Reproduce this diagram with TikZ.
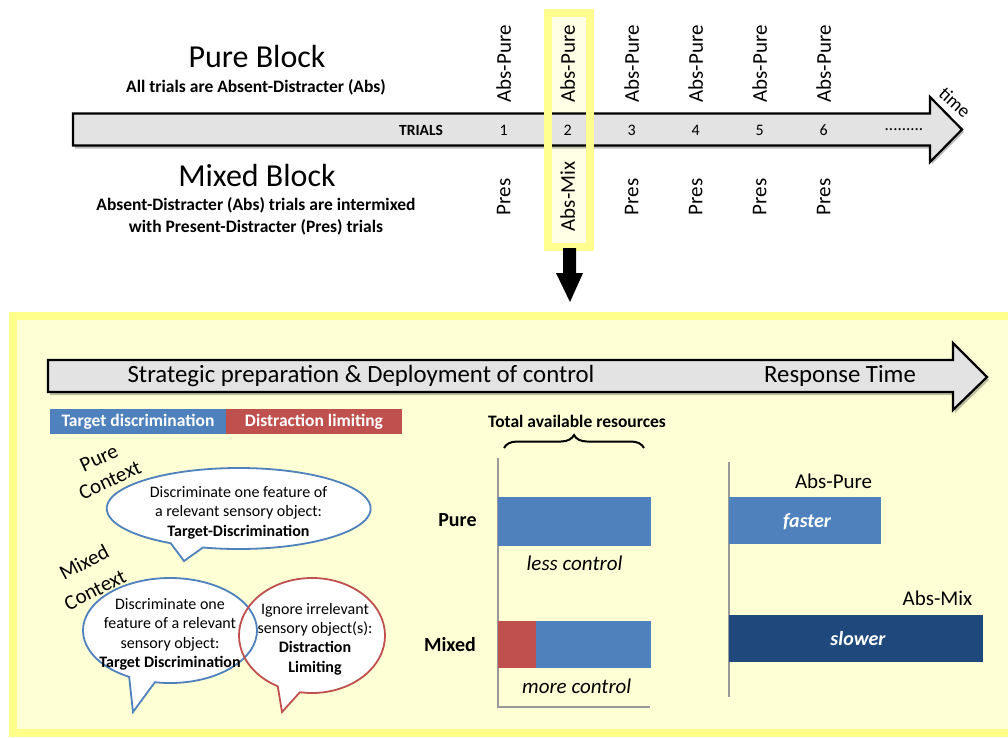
\documentclass[tikz,border=0pt]{standalone}
\usepackage{fontspec}
\setmainfont{Carlito}
\usetikzlibrary{decorations.pathreplacing}
\definecolor{tdblue}{HTML}{4F81BD}
\definecolor{dlred}{HTML}{C0504D}
\definecolor{slowblue}{HTML}{1F497D}
\definecolor{panelfill}{HTML}{FFFFD5}
\definecolor{panelborder}{HTML}{FFFF8A}
\definecolor{hlfill}{HTML}{FFFFE6}
\definecolor{hlborder}{HTML}{FFFF90}
\definecolor{arrowgray}{HTML}{E3E3E3}
\definecolor{axisgray}{HTML}{9A9A9A}
\newcommand{\fsz}[2]{\fontsize{#1}{#2}\selectfont}
\begin{document}
\begin{tikzpicture}[x=1pt,y=-1pt,
  blockarrow/.style={fill=arrowgray, draw=black, line width=2.2pt, line join=miter},
  arrowshadow/.style={fill=black, opacity=0.25},
  bigtitle/.style={inner sep=0pt, font=\fsz{32}{38}},
  desctext/.style={inner sep=0pt, font=\bfseries\fsz{17.5}{22}, align=center},
  trialnum/.style={inner sep=0pt, font=\fsz{16}{18}},
  trialtype/.style={inner sep=0pt, rotate=90, font=\fsz{21}{24}},
  legendbox/.style={inner sep=0pt, minimum width=176pt, minimum height=25pt, text=white, font=\bfseries\fsz{17.5}{20}},
  bubbletext/.style={inner sep=0pt, align=center, font=\fsz{16}{19.4}},
  contextlabel/.style={inner sep=0pt, font=\fsz{21}{24}},
  rowlabel/.style={inner sep=0pt, font=\bfseries\fsz{20}{24}},
  ctrltext/.style={inner sep=0pt, font=\itshape\fsz{21}{24}},
  rtlabel/.style={inner sep=0pt, font=\fsz{21}{24}},
  bartext/.style={inner sep=0pt, text=white, font=\bfseries\itshape\fsz{20}{24}},
  axisline/.style={draw=axisgray, line width=1.2pt},
  bubbleblue/.style={draw=tdblue, line width=1.8pt},
  bubblered/.style={draw=dlred, line width=1.8pt}
]
\useasboundingbox (0,0) rectangle (1008,737);
\fill[white] (0,0) rectangle (1008,737);

% ---------- top part ----------
\fill[hlfill] (548,12.5) rectangle (590,246.5);
\fill[arrowshadow] (75,116.5) -- (932,116.5) -- (932,100) -- (964,132) -- (932,164) -- (932,148.5) -- (75,148.5) -- cycle;
\draw[blockarrow] (73,113.5) -- (930,113.5) -- (930,97) -- (962,129.5) -- (930,162) -- (930,145.5) -- (73,145.5) -- cycle;
\draw[hlborder, line width=8pt] (548,12.5) rectangle (590,246.5);

\node[bigtitle] (pureblock) at (257,57) {Pure Block};
\node[desctext] (puredesc) at (256,87) {All trials are Absent-Distracter (Abs)};
\node[bigtitle] (mixedblock) at (257,175) {Mixed Block};
\node[desctext] (mixeddesc) at (256,216) {Absent-Distracter (Abs) trials are intermixed\\with Present-Distracter (Pres) trials};

\node[inner sep=0pt, font=\bfseries\fsz{15.5}{18}] (trials) at (421,130) {TRIALS};
\foreach \i in {1,...,6} {
  \node[trialnum] (n\i) at ({503.6+64*(\i-1)},130) {\i};
  \node[trialtype] (top\i) at ({503.6+64*(\i-1)},64) {Abs-Pure};
}
\foreach \i in {1,3,4,5,6} {
  \node[trialtype] (bot\i) at ({503.6+64*(\i-1)},197) {Pres};
}
\node[trialtype] (bot2) at (567.6,196.5) {Abs-Mix};
\node[inner sep=0pt, font=\fsz{17}{18}] (dots) at (904,130) {.........};
\node[inner sep=0pt, rotate=-42, font=\fsz{19}{21}] (time) at (955,102) {time};

% down arrow
\fill[black] (563,248) -- (576,248) -- (576,273) -- (583,273) -- (570,302) -- (556,273) -- (563,273) -- cycle;

% ---------- bottom panel ----------
\draw[panelborder, line width=8pt, fill=panelfill] (13,316) rectangle (1016,733);

\fill[arrowshadow] (50,363) -- (955,363) -- (955,346) -- (989,380) -- (955,413) -- (955,395) -- (50,395) -- cycle;
\draw[blockarrow] (48,360) -- (953,360) -- (953,343) -- (987,377) -- (953,410) -- (953,392) -- (48,392) -- cycle;
\node[inner sep=0pt, font=\fsz{24.8}{28}] (strategic) at (361,376) {Strategic preparation \& Deployment of control};
\node[inner sep=0pt, font=\fsz{24.8}{28}] (rt) at (840,376) {Response Time};

\node[legendbox, fill=tdblue] (legtd) at (138,421.5) {Target discrimination};
\node[legendbox, fill=dlred] (legdl) at (314,421.5) {Distraction limiting};

% context labels
\node[contextlabel, rotate=25] (purew) at (99,458) {Pure};
\node[contextlabel, rotate=25] (purectx) at (110,480) {Context};
\node[contextlabel, rotate=28] (mixedw) at (84,562) {Mixed};
\node[contextlabel, rotate=27] (mixedctx) at (95,590) {Context};

% speech bubbles
\draw[bubbleblue, fill=white] (238.7,508.5) ++(121:132 and 40.5)
  arc[start angle=121, end angle=465.7, x radius=132, y radius=40.5] -- (184,561) -- cycle;
\fill[white] (170,630.5) ++(118:87 and 52.5)
  arc[start angle=118, end angle=460, x radius=87, y radius=52.5] -- (133,712) -- cycle;
\fill[white] (312,635.5) ++(118:73 and 57.5)
  arc[start angle=118, end angle=459.5, x radius=73, y radius=57.5] -- (282,712) -- cycle;
\draw[bubbleblue] (170,630.5) ++(118:87 and 52.5)
  arc[start angle=118, end angle=460, x radius=87, y radius=52.5] -- (133,712) -- cycle;
\draw[bubblered] (312,635.5) ++(118:73 and 57.5)
  arc[start angle=118, end angle=459.5, x radius=73, y radius=57.5] -- (282,712) -- cycle;

\node[bubbletext] (puretxt) at (238.5,512.5) {Discriminate one feature of\\a relevant sensory object:\\\textbf{Target-Discrimination}};
\node[bubbletext] (mixtdtxt) at (170,634.5) {Discriminate one\\feature of a relevant\\sensory object:\\\textbf{Target Discrimination}};
\node[bubbletext] (mixdltxt) at (315,639) {Ignore irrelevant\\sensory object(s):\\\textbf{Distraction}\\\textbf{Limiting}};

% resources chart
\node[inner sep=0pt, font=\bfseries\fsz{17.5}{20}] (total) at (577,421.7) {Total available resources};
\draw[line width=2pt, decorate, decoration={brace, amplitude=13pt}] (504,448) -- (644,448);
\draw[axisline] (498,458) -- (498,707) -- (650,707);
\fill[tdblue] (498,497) rectangle (650.6,545.7);
\fill[dlred] (498,621) rectangle (536,668);
\fill[tdblue] (536,621) rectangle (650.6,668);
\node[rowlabel] (purelbl) at (457.5,520) {Pure};
\node[rowlabel] (mixedlbl) at (450,645) {Mixed};
\node[ctrltext] (less) at (574.5,563) {less control};
\node[ctrltext] (more) at (576.7,686) {more control};

% response time chart
\draw[axisline] (729,462) -- (729,697);
\fill[tdblue] (729,497) rectangle (881,544);
\fill[slowblue] (729,615) rectangle (982.5,662);
\node[rtlabel] (abspure) at (833.6,481.7) {Abs-Pure};
\node[rtlabel] (absmix) at (937.5,598) {Abs-Mix};
\node[bartext] (faster) at (807,521.7) {faster};
\node[bartext] (slower) at (858,639) {slower};
\end{tikzpicture}
\end{document}
